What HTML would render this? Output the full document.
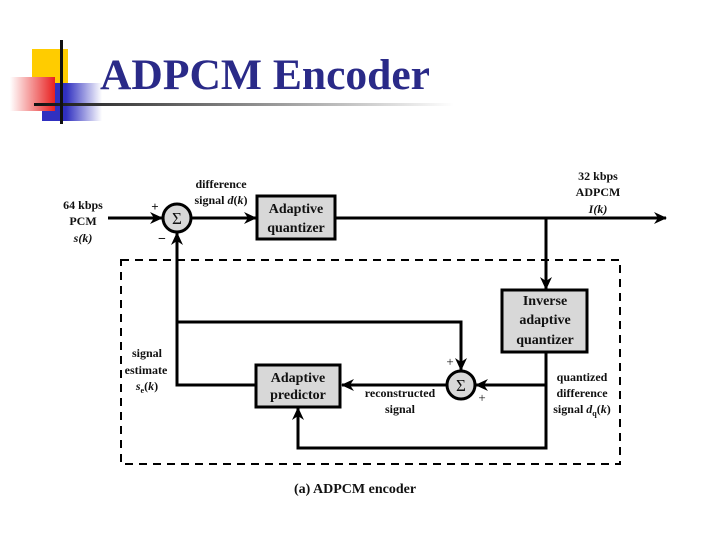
<!DOCTYPE html>
<html><head><meta charset="utf-8"><style>
body{margin:0;width:720px;height:540px;background:#fff;overflow:hidden;position:relative}
</style></head><body>
<svg width="720" height="540" xmlns="http://www.w3.org/2000/svg" style="position:absolute;left:0;top:0">
<defs>
<linearGradient id="rg" x1="0" x2="1"><stop offset="0" stop-color="#fff"/><stop offset="1" stop-color="#e82020"/></linearGradient>
<linearGradient id="bg" x1="0" x2="1"><stop offset="0" stop-color="#3030c0"/><stop offset="0.4" stop-color="#3030c0"/><stop offset="1" stop-color="#fff"/></linearGradient>
<linearGradient id="lg" x1="0" x2="1"><stop offset="0" stop-color="#111"/><stop offset="1" stop-color="#fff"/></linearGradient>
<marker id="a" markerWidth="13" markerHeight="12" refX="12" refY="6" orient="auto" markerUnits="userSpaceOnUse"><path d="M0,0 L13,6 L0,12 L4,6 Z" fill="#000"/></marker>
</defs>
<rect x="32" y="49" width="36" height="40" fill="#ffcc00"/>
<rect x="42" y="83" width="60" height="38" fill="url(#bg)"/>
<rect x="10" y="77" width="45" height="34" fill="url(#rg)"/>
<rect x="34" y="103" width="420" height="3" fill="url(#lg)"/>
<rect x="60" y="40" width="3" height="84" fill="#111"/>
<text x="100" y="89" font-family="Liberation Serif,serif" font-weight="bold" font-size="43" fill="#2a2a88" textLength="330" lengthAdjust="spacingAndGlyphs">ADPCM Encoder</text>

<g stroke="#000" stroke-width="3" fill="none">
<rect x="121" y="260" width="499" height="204" stroke-width="2" stroke-dasharray="8,6"/>
<line x1="108" y1="218" x2="162" y2="218" marker-end="url(#a)"/>
<line x1="191" y1="218" x2="256" y2="218" marker-end="url(#a)"/>
<line x1="335" y1="218" x2="666" y2="218" marker-end="url(#a)"/>
<line x1="546" y1="218" x2="546" y2="289" marker-end="url(#a)"/>
<polyline points="256,385 177,385 177,233" marker-end="url(#a)"/>
<polyline points="177,322 461,322 461,370" marker-end="url(#a)"/>
<line x1="447" y1="385" x2="342" y2="385" marker-end="url(#a)"/>
<polyline points="546,352 546,448 298,448 298,408" marker-end="url(#a)"/>
<line x1="546" y1="385" x2="476" y2="385" marker-end="url(#a)"/>
<circle cx="177" cy="218" r="14" fill="#d8d8d8"/>
<circle cx="461" cy="385" r="14" fill="#d8d8d8"/>
<rect x="257" y="196" width="78" height="43" fill="#d8d8d8"/>
<rect x="502" y="290" width="85" height="62" fill="#d8d8d8"/>
<rect x="256" y="365" width="84" height="42" fill="#d8d8d8"/>
</g>
<g font-family="Liberation Serif,serif" font-weight="bold" text-anchor="middle" fill="#111">
<text x="177" y="224" font-size="17" font-weight="normal">Σ</text>
<text x="461" y="391" font-size="17" font-weight="normal">Σ</text>
<g font-size="14"><text x="296" y="213">Adaptive</text><text x="296" y="232">quantizer</text>
<text x="545" y="305">Inverse</text><text x="545" y="324">adaptive</text><text x="545" y="344">quantizer</text>
<text x="298" y="382">Adaptive</text><text x="298" y="399">predictor</text></g>
<g font-size="12"><text x="83" y="209">64 kbps</text><text x="83" y="225">PCM</text><text x="83" y="242" font-style="italic">s(k)</text>
<text x="221" y="188">difference</text><text x="221" y="204">signal <tspan font-style="italic">d</tspan>(<tspan font-style="italic">k</tspan>)</text>
<text x="598" y="180">32 kbps</text><text x="598" y="196">ADPCM</text><text x="598" y="213" font-style="italic">I(k)</text>
<text x="147" y="357">signal</text><text x="146" y="374">estimate</text><text x="147" y="390"><tspan font-style="italic">s</tspan><tspan font-size="8" dy="3">e</tspan><tspan dy="-3">(</tspan><tspan font-style="italic">k</tspan>)</text>
<text x="400" y="397">reconstructed</text><text x="400" y="413">signal</text>
<text x="582" y="381">quantized</text><text x="582" y="397">difference</text><text x="582" y="413">signal <tspan font-style="italic">d</tspan><tspan font-size="8" dy="3">q</tspan><tspan dy="-3">(</tspan><tspan font-style="italic">k</tspan>)</text>
<text x="155" y="211" font-size="13">+</text><text x="162" y="243" font-size="14">−</text>
<text x="450" y="366" font-size="13" font-weight="normal">+</text><text x="482" y="402" font-size="13" font-weight="normal">+</text></g>
<text x="355" y="493" font-size="14">(a) ADPCM encoder</text>
</g>
</svg>
</body></html>
